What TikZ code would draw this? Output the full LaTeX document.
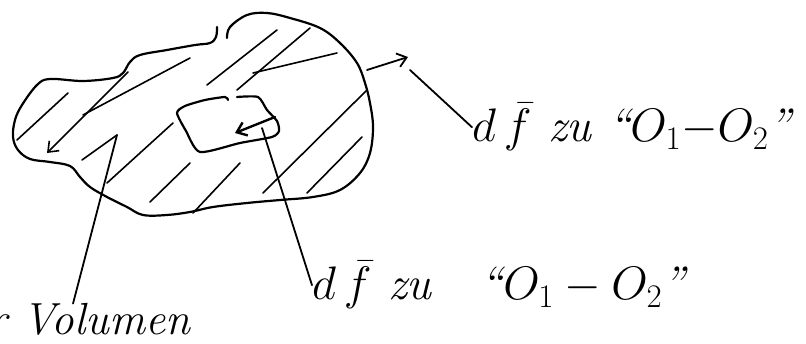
\RequirePackage{fix-cm}
\documentclass[tikz,border=0pt]{standalone}
\usetikzlibrary{arrows.meta,calc}
\begin{document}
\begin{tikzpicture}[x=1pt,y=-1pt,
  outline/.style={line width=2.2pt,line cap=round,line join=round},
  hatch/.style={line width=1.6pt,line cap=round},
  pointer/.style={line width=1.8pt,line cap=round},
  barb/.style={-{Straight Barb[length=9pt,width=14pt]}},
  hand/.style={font=\fontsize{47}{52}\selectfont\itshape,inner sep=0pt}]
\useasboundingbox (0,0) rectangle (806,344);
% region outline
\draw[outline] plot[smooth,tension=0.6] coordinates {(227,38) (230,27) (247,15) (267,13) (290,18) (320,28) (340,43) (357,63) (365,83) (370,103) (373,127) (370,153) (360,173) (340,190) (313,197) (280,200) (247,203) (213,207) (190,212) (167,215) (143,215) (127,207) (107,197) (90,187) (80,177) (70,166) (50,162) (30,159) (18,150) (13,137) (15,120) (22,105) (37,85) (50,79) (83,81) (113,78) (123,73) (130,62) (140,55) (167,50) (195,45) (210,43) (216,37) (217,27)};
% inner surface element
\draw[outline] plot[smooth,tension=0.4] coordinates {(237,97) (258,97) (267,110) (277,121) (279,131) (272,137) (240,143) (200,152) (186,131) (177,113) (185,106) (205,100) (225,97) (228,100)};
% hatching
\draw[hatch] (17,140) -- (68,93);
\draw[hatch,barb] (128,72) -- (47,153);
\draw[hatch] (83,115) -- (190,58);
\draw[hatch] (82,160) -- (117,135);
\draw[hatch] (107,183) -- (173,123);
\draw[hatch] (150,202) -- (190,163);
\draw[hatch] (193,213) -- (240,163);
\draw[hatch] (207,85) -- (277,30);
\draw[hatch] (237,90) -- (310,28);
\draw[hatch] (253,73) -- (337,53);
\draw[hatch] (263,193) -- (367,90);
\draw[hatch] (307,193) -- (362,137);
% arrows
\coordinate (innerfrom) at (275,117);
\coordinate (innerto) at (235,133);
\draw[pointer,line width=2.4pt,barb] (innerfrom) -- (innerto);
\coordinate (outerfrom) at (367,70);
\coordinate (outerto) at (408,57);
\draw[pointer,barb] (outerfrom) -- (outerto);
% labels
\node[hand,anchor=base west] (top) at (472,142) {$d\,\bar{f}$ zu ``$O_1{-}O_2$''};
\node[hand,anchor=base west] (bottom) at (312,300) {$d\,\bar{f}$ zu\ \ \ ``$O_1 - O_2$''};
\node[hand,font=\fontsize{45}{50}\selectfont\itshape,anchor=base west] (vol) at (-12,335) {r Volumen};
% pointer lines
\coordinate (ptop) at (410,70);
\coordinate (pmid) at (262,128);
\coordinate (pvol) at (117,135);
\draw[pointer] (ptop) -- (top.west);
\draw[pointer] (pmid) -- (bottom.west);
\draw[pointer] (pvol) -- ($(vol.north west)!0.42!(vol.north east)$);
\end{tikzpicture}
\end{document}
